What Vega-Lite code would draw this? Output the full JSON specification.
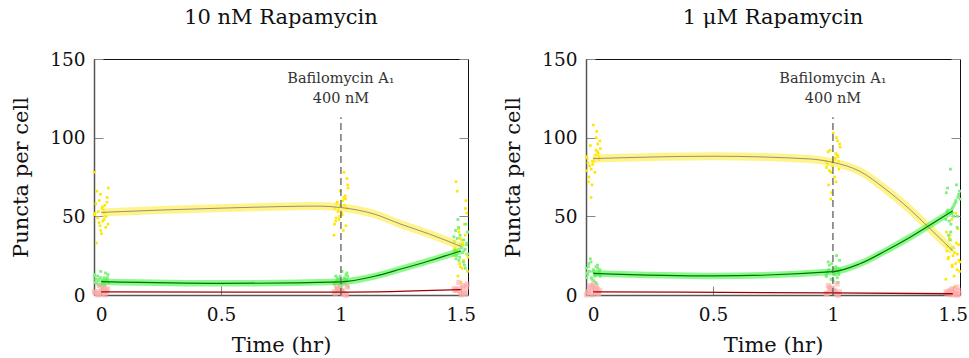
{
"$schema":"https://vega.github.io/schema/vega-lite/v6.json",
"padding":{"left":10,"top":6,"right":0,"bottom":0},
"spacing":24,
"config":{
 "font":"DejaVu Serif",
 "view":{"stroke":"#111","strokeWidth":1},
 "axis":{"grid":false,"domainColor":"#555","domainWidth":1.5,"tickColor":"#888","tickSize":-9,"tickWidth":1,"labelFont":"DejaVu Serif","titleFont":"DejaVu Serif","labelFontSize":18.5,"titleFontSize":21,"titleFontWeight":"normal","labelFontWeight":"normal","labelColor":"#111","titleColor":"#111"},
 "axisX":{"labelPadding":19,"titlePadding":11},
 "axisY":{"labelPadding":18,"titlePadding":18},
 "title":{"font":"DejaVu Serif","fontSize":21,"fontWeight":"normal","color":"#111","offset":22},
 "text":{"font":"DejaVu Serif"}
},
"datasets":{
"pL":[
{"s":"Y","x":-0.025,"v":52},{"s":"Y","x":0.012,"v":48},{"s":"Y","x":-0.008,"v":60},{"s":"Y","x":0.028,"v":45},{"s":"Y","x":0.003,"v":55},{"s":"Y","x":-0.018,"v":66},{"s":"Y","x":0.021,"v":50},{"s":"Y","x":-0.002,"v":41},{"s":"Y","x":0.015,"v":57},{"s":"Y","x":-0.029,"v":78},{"s":"Y","x":0.007,"v":47},{"s":"Y","x":-0.012,"v":53},{"s":"Y","x":0.025,"v":62},{"s":"Y","x":-0.005,"v":44},{"s":"Y","x":0.018,"v":50},{"s":"Y","x":-0.022,"v":58},{"s":"Y","x":0.001,"v":39},{"s":"Y","x":0.010,"v":54},{"s":"Y","x":-0.015,"v":49},{"s":"Y","x":0.030,"v":68},{"s":"Y","x":-0.009,"v":46},{"s":"Y","x":0.005,"v":56},{"s":"Y","x":-0.027,"v":51},{"s":"Y","x":0.019,"v":43},{"s":"Y","x":-0.003,"v":64},{"s":"Y","x":0.013,"v":52},{"s":"Y","x":-0.020,"v":33},{"s":"Y","x":0.024,"v":59},
{"s":"G","x":-0.025,"v":8},{"s":"G","x":0.012,"v":11},{"s":"G","x":-0.008,"v":6},{"s":"G","x":0.028,"v":13},{"s":"G","x":0.003,"v":9},{"s":"G","x":-0.018,"v":7},{"s":"G","x":0.021,"v":10},{"s":"G","x":-0.002,"v":15},{"s":"G","x":0.015,"v":8},{"s":"G","x":-0.029,"v":12},{"s":"G","x":0.007,"v":5},{"s":"G","x":-0.012,"v":9},{"s":"G","x":0.025,"v":11},{"s":"G","x":-0.005,"v":7},{"s":"G","x":0.018,"v":14},{"s":"G","x":-0.022,"v":10},{"s":"G","x":0.001,"v":6},{"s":"G","x":0.010,"v":9},{"s":"G","x":-0.015,"v":12},{"s":"G","x":0.030,"v":8},{"s":"G","x":-0.009,"v":10},{"s":"G","x":0.005,"v":7},{"s":"G","x":-0.027,"v":13},{"s":"G","x":0.019,"v":9},{"s":"G","x":-0.003,"v":11},{"s":"G","x":0.013,"v":6},{"s":"G","x":-0.020,"v":8},{"s":"G","x":0.024,"v":10},
{"s":"R","x":-0.024,"v":2},{"s":"R","x":0.006,"v":1},{"s":"R","x":0.02,"v":3},{"s":"R","x":-0.012,"v":0},{"s":"R","x":0.027,"v":4},{"s":"R","x":-0.003,"v":2},{"s":"R","x":0.013,"v":5},{"s":"R","x":-0.019,"v":1},{"s":"R","x":0.001,"v":3},{"s":"R","x":0.023,"v":2},{"s":"R","x":-0.008,"v":6},{"s":"R","x":0.017,"v":0},{"s":"R","x":-0.028,"v":2},{"s":"R","x":0.009,"v":4},{"s":"R","x":-0.015,"v":1},
{"s":"Y","x":0.975,"v":55},{"s":"Y","x":1.012,"v":62},{"s":"Y","x":0.992,"v":48},{"s":"Y","x":1.028,"v":70},{"s":"Y","x":1.003,"v":52},{"s":"Y","x":0.982,"v":58},{"s":"Y","x":1.021,"v":44},{"s":"Y","x":0.998,"v":66},{"s":"Y","x":1.015,"v":57},{"s":"Y","x":0.971,"v":38},{"s":"Y","x":1.007,"v":60},{"s":"Y","x":0.988,"v":53},{"s":"Y","x":1.025,"v":74},{"s":"Y","x":0.995,"v":50},{"s":"Y","x":1.018,"v":63},{"s":"Y","x":0.978,"v":47},{"s":"Y","x":1.001,"v":56},{"s":"Y","x":1.010,"v":41},{"s":"Y","x":0.985,"v":59},{"s":"Y","x":1.030,"v":68},{"s":"Y","x":0.991,"v":54},{"s":"Y","x":1.005,"v":51},{"s":"Y","x":0.973,"v":45},{"s":"Y","x":1.019,"v":61},{"s":"Y","x":0.997,"v":57},{"s":"Y","x":1.013,"v":78},{"s":"Y","x":0.980,"v":49},{"s":"Y","x":1.024,"v":55},
{"s":"G","x":0.975,"v":8},{"s":"G","x":1.012,"v":10},{"s":"G","x":0.992,"v":5},{"s":"G","x":1.028,"v":12},{"s":"G","x":1.003,"v":7},{"s":"G","x":0.982,"v":9},{"s":"G","x":1.021,"v":13},{"s":"G","x":0.998,"v":6},{"s":"G","x":1.015,"v":11},{"s":"G","x":0.971,"v":8},{"s":"G","x":1.007,"v":3},{"s":"G","x":0.988,"v":10},{"s":"G","x":1.025,"v":14},{"s":"G","x":0.995,"v":7},{"s":"G","x":1.018,"v":9},{"s":"G","x":0.978,"v":12},{"s":"G","x":1.001,"v":6},{"s":"G","x":1.010,"v":8},{"s":"G","x":0.985,"v":11},{"s":"G","x":1.030,"v":5},{"s":"G","x":0.991,"v":10},{"s":"G","x":1.005,"v":15},{"s":"G","x":0.973,"v":7},{"s":"G","x":1.019,"v":9},{"s":"G","x":0.997,"v":12},{"s":"G","x":1.013,"v":8},{"s":"G","x":0.980,"v":4},{"s":"G","x":1.024,"v":10},
{"s":"R","x":0.976,"v":1},{"s":"R","x":1.006,"v":3},{"s":"R","x":1.02,"v":0},{"s":"R","x":0.988,"v":2},{"s":"R","x":1.027,"v":5},{"s":"R","x":0.997,"v":4},{"s":"R","x":1.013,"v":1},{"s":"R","x":0.981,"v":6},{"s":"R","x":1.001,"v":2},{"s":"R","x":1.023,"v":0},{"s":"R","x":0.992,"v":3},{"s":"R","x":1.017,"v":7},{"s":"R","x":0.972,"v":2},{"s":"R","x":1.009,"v":1},{"s":"R","x":0.985,"v":4},
{"s":"Y","x":1.475,"v":30},{"s":"Y","x":1.512,"v":22},{"s":"Y","x":1.492,"v":40},{"s":"Y","x":1.528,"v":15},{"s":"Y","x":1.503,"v":35},{"s":"Y","x":1.482,"v":28},{"s":"Y","x":1.521,"v":60},{"s":"Y","x":1.498,"v":18},{"s":"Y","x":1.515,"v":45},{"s":"Y","x":1.471,"v":25},{"s":"Y","x":1.507,"v":33},{"s":"Y","x":1.488,"v":12},{"s":"Y","x":1.525,"v":52},{"s":"Y","x":1.495,"v":20},{"s":"Y","x":1.518,"v":38},{"s":"Y","x":1.478,"v":27},{"s":"Y","x":1.501,"v":8},{"s":"Y","x":1.510,"v":32},{"s":"Y","x":1.485,"v":66},{"s":"Y","x":1.530,"v":24},{"s":"Y","x":1.491,"v":42},{"s":"Y","x":1.505,"v":17},{"s":"Y","x":1.473,"v":29},{"s":"Y","x":1.519,"v":55},{"s":"Y","x":1.497,"v":36},{"s":"Y","x":1.513,"v":21},{"s":"Y","x":1.480,"v":72},{"s":"Y","x":1.524,"v":26},
{"s":"G","x":1.475,"v":28},{"s":"G","x":1.512,"v":35},{"s":"G","x":1.492,"v":22},{"s":"G","x":1.528,"v":40},{"s":"G","x":1.503,"v":30},{"s":"G","x":1.482,"v":25},{"s":"G","x":1.521,"v":45},{"s":"G","x":1.498,"v":32},{"s":"G","x":1.515,"v":19},{"s":"G","x":1.471,"v":37},{"s":"G","x":1.507,"v":27},{"s":"G","x":1.488,"v":48},{"s":"G","x":1.525,"v":33},{"s":"G","x":1.495,"v":24},{"s":"G","x":1.518,"v":29},{"s":"G","x":1.478,"v":41},{"s":"G","x":1.501,"v":31},{"s":"G","x":1.510,"v":21},{"s":"G","x":1.485,"v":36},{"s":"G","x":1.530,"v":26},{"s":"G","x":1.491,"v":43},{"s":"G","x":1.505,"v":30},{"s":"G","x":1.473,"v":34},{"s":"G","x":1.519,"v":17},{"s":"G","x":1.497,"v":38},{"s":"G","x":1.513,"v":28},{"s":"G","x":1.480,"v":23},{"s":"G","x":1.524,"v":32},
{"s":"R","x":1.476,"v":3},{"s":"R","x":1.506,"v":5},{"s":"R","x":1.52,"v":1},{"s":"R","x":1.488,"v":4},{"s":"R","x":1.527,"v":7},{"s":"R","x":1.497,"v":2},{"s":"R","x":1.513,"v":6},{"s":"R","x":1.481,"v":3},{"s":"R","x":1.501,"v":0},{"s":"R","x":1.523,"v":5},{"s":"R","x":1.492,"v":8},{"s":"R","x":1.517,"v":2},{"s":"R","x":1.472,"v":4},{"s":"R","x":1.509,"v":1},{"s":"R","x":1.485,"v":3}
],
"pR":[
{"s":"Y","x":-0.025,"v":87},{"s":"Y","x":0.012,"v":92},{"s":"Y","x":-0.008,"v":80},{"s":"Y","x":0.028,"v":98},{"s":"Y","x":0.003,"v":85},{"s":"Y","x":-0.018,"v":75},{"s":"Y","x":0.021,"v":90},{"s":"Y","x":-0.002,"v":83},{"s":"Y","x":0.015,"v":104},{"s":"Y","x":-0.029,"v":88},{"s":"Y","x":0.007,"v":78},{"s":"Y","x":-0.012,"v":95},{"s":"Y","x":0.025,"v":86},{"s":"Y","x":-0.005,"v":70},{"s":"Y","x":0.018,"v":91},{"s":"Y","x":-0.022,"v":84},{"s":"Y","x":0.001,"v":108},{"s":"Y","x":0.010,"v":89},{"s":"Y","x":-0.015,"v":82},{"s":"Y","x":0.030,"v":93},{"s":"Y","x":-0.009,"v":62},{"s":"Y","x":0.005,"v":87},{"s":"Y","x":-0.027,"v":79},{"s":"Y","x":0.019,"v":96},{"s":"Y","x":-0.003,"v":85},{"s":"Y","x":0.013,"v":100},{"s":"Y","x":-0.020,"v":72},{"s":"Y","x":0.024,"v":88},
{"s":"G","x":-0.025,"v":14},{"s":"G","x":0.012,"v":18},{"s":"G","x":-0.008,"v":11},{"s":"G","x":0.028,"v":16},{"s":"G","x":0.003,"v":9},{"s":"G","x":-0.018,"v":20},{"s":"G","x":0.021,"v":13},{"s":"G","x":-0.002,"v":15},{"s":"G","x":0.015,"v":7},{"s":"G","x":-0.029,"v":17},{"s":"G","x":0.007,"v":12},{"s":"G","x":-0.012,"v":23},{"s":"G","x":0.025,"v":14},{"s":"G","x":-0.005,"v":10},{"s":"G","x":0.018,"v":19},{"s":"G","x":-0.022,"v":13},{"s":"G","x":0.001,"v":16},{"s":"G","x":0.010,"v":8},{"s":"G","x":-0.015,"v":15},{"s":"G","x":0.030,"v":12},{"s":"G","x":-0.009,"v":21},{"s":"G","x":0.005,"v":14},{"s":"G","x":-0.027,"v":11},{"s":"G","x":0.019,"v":17},{"s":"G","x":-0.003,"v":6},{"s":"G","x":0.013,"v":13},{"s":"G","x":-0.020,"v":18},{"s":"G","x":0.024,"v":15},
{"s":"R","x":-0.024,"v":2},{"s":"R","x":0.006,"v":4},{"s":"R","x":0.02,"v":1},{"s":"R","x":-0.012,"v":6},{"s":"R","x":0.027,"v":3},{"s":"R","x":-0.003,"v":0},{"s":"R","x":0.013,"v":5},{"s":"R","x":-0.019,"v":2},{"s":"R","x":0.001,"v":7},{"s":"R","x":0.023,"v":1},{"s":"R","x":-0.008,"v":3},{"s":"R","x":0.017,"v":4},{"s":"R","x":-0.028,"v":0},{"s":"R","x":0.009,"v":2},{"s":"R","x":-0.015,"v":5},
{"s":"Y","x":0.975,"v":84},{"s":"Y","x":1.012,"v":90},{"s":"Y","x":0.992,"v":78},{"s":"Y","x":1.028,"v":96},{"s":"Y","x":1.003,"v":86},{"s":"Y","x":0.982,"v":70},{"s":"Y","x":1.021,"v":88},{"s":"Y","x":0.998,"v":82},{"s":"Y","x":1.015,"v":100},{"s":"Y","x":0.971,"v":85},{"s":"Y","x":1.007,"v":75},{"s":"Y","x":0.988,"v":92},{"s":"Y","x":1.025,"v":80},{"s":"Y","x":0.995,"v":65},{"s":"Y","x":1.018,"v":89},{"s":"Y","x":0.978,"v":83},{"s":"Y","x":1.001,"v":103},{"s":"Y","x":1.010,"v":87},{"s":"Y","x":0.985,"v":79},{"s":"Y","x":1.030,"v":94},{"s":"Y","x":0.991,"v":61},{"s":"Y","x":1.005,"v":86},{"s":"Y","x":0.973,"v":81},{"s":"Y","x":1.019,"v":98},{"s":"Y","x":0.997,"v":84},{"s":"Y","x":1.013,"v":72},{"s":"Y","x":0.980,"v":91},{"s":"Y","x":1.024,"v":85},
{"s":"G","x":0.975,"v":14},{"s":"G","x":1.012,"v":18},{"s":"G","x":0.992,"v":10},{"s":"G","x":1.028,"v":22},{"s":"G","x":1.003,"v":13},{"s":"G","x":0.982,"v":16},{"s":"G","x":1.021,"v":8},{"s":"G","x":0.998,"v":15},{"s":"G","x":1.015,"v":25},{"s":"G","x":0.971,"v":12},{"s":"G","x":1.007,"v":17},{"s":"G","x":0.988,"v":5},{"s":"G","x":1.025,"v":14},{"s":"G","x":0.995,"v":20},{"s":"G","x":1.018,"v":11},{"s":"G","x":0.978,"v":15},{"s":"G","x":1.001,"v":9},{"s":"G","x":1.010,"v":13},{"s":"G","x":0.985,"v":19},{"s":"G","x":1.030,"v":16},{"s":"G","x":0.991,"v":3},{"s":"G","x":1.005,"v":14},{"s":"G","x":0.973,"v":12},{"s":"G","x":1.019,"v":17},{"s":"G","x":0.997,"v":10},{"s":"G","x":1.013,"v":15},{"s":"G","x":0.980,"v":21},{"s":"G","x":1.024,"v":13},
{"s":"R","x":0.976,"v":1},{"s":"R","x":1.006,"v":3},{"s":"R","x":1.02,"v":0},{"s":"R","x":0.988,"v":5},{"s":"R","x":1.027,"v":2},{"s":"R","x":0.997,"v":4},{"s":"R","x":1.013,"v":1},{"s":"R","x":0.981,"v":6},{"s":"R","x":1.001,"v":2},{"s":"R","x":1.023,"v":0},{"s":"R","x":0.992,"v":3},{"s":"R","x":1.017,"v":7},{"s":"R","x":0.972,"v":1},{"s":"R","x":1.009,"v":2},{"s":"R","x":0.985,"v":4},
{"s":"Y","x":1.475,"v":28},{"s":"Y","x":1.512,"v":20},{"s":"Y","x":1.492,"v":35},{"s":"Y","x":1.528,"v":15},{"s":"Y","x":1.503,"v":30},{"s":"Y","x":1.482,"v":24},{"s":"Y","x":1.521,"v":42},{"s":"Y","x":1.498,"v":18},{"s":"Y","x":1.515,"v":33},{"s":"Y","x":1.471,"v":10},{"s":"Y","x":1.507,"v":27},{"s":"Y","x":1.488,"v":38},{"s":"Y","x":1.525,"v":22},{"s":"Y","x":1.495,"v":48},{"s":"Y","x":1.518,"v":16},{"s":"Y","x":1.478,"v":31},{"s":"Y","x":1.501,"v":25},{"s":"Y","x":1.510,"v":5},{"s":"Y","x":1.485,"v":36},{"s":"Y","x":1.530,"v":21},{"s":"Y","x":1.491,"v":29},{"s":"Y","x":1.505,"v":12},{"s":"Y","x":1.473,"v":40},{"s":"Y","x":1.519,"v":26},{"s":"Y","x":1.497,"v":19},{"s":"Y","x":1.513,"v":52},{"s":"Y","x":1.480,"v":23},{"s":"Y","x":1.524,"v":32},
{"s":"G","x":1.475,"v":53},{"s":"G","x":1.512,"v":60},{"s":"G","x":1.492,"v":45},{"s":"G","x":1.528,"v":66},{"s":"G","x":1.503,"v":50},{"s":"G","x":1.482,"v":38},{"s":"G","x":1.521,"v":62},{"s":"G","x":1.498,"v":55},{"s":"G","x":1.515,"v":70},{"s":"G","x":1.471,"v":48},{"s":"G","x":1.507,"v":58},{"s":"G","x":1.488,"v":35},{"s":"G","x":1.525,"v":64},{"s":"G","x":1.495,"v":52},{"s":"G","x":1.518,"v":43},{"s":"G","x":1.478,"v":68},{"s":"G","x":1.501,"v":56},{"s":"G","x":1.490,"v":80},{"s":"G","x":1.485,"v":47},{"s":"G","x":1.530,"v":61},{"s":"G","x":1.491,"v":40},{"s":"G","x":1.505,"v":57},{"s":"G","x":1.473,"v":65},{"s":"G","x":1.519,"v":50},{"s":"G","x":1.497,"v":30},{"s":"G","x":1.513,"v":59},{"s":"G","x":1.480,"v":54},{"s":"G","x":1.524,"v":63},
{"s":"R","x":1.476,"v":1},{"s":"R","x":1.506,"v":2},{"s":"R","x":1.52,"v":0},{"s":"R","x":1.488,"v":3},{"s":"R","x":1.527,"v":1},{"s":"R","x":1.497,"v":4},{"s":"R","x":1.513,"v":0},{"s":"R","x":1.481,"v":2},{"s":"R","x":1.501,"v":1},{"s":"R","x":1.523,"v":3},{"s":"R","x":1.492,"v":0},{"s":"R","x":1.517,"v":5},{"s":"R","x":1.472,"v":2},{"s":"R","x":1.509,"v":1},{"s":"R","x":1.485,"v":2}
],
"cL":[
{"s":"Y","x":0,"v":52.5},{"s":"Y","x":0.25,"v":54},{"s":"Y","x":0.5,"v":55.2},{"s":"Y","x":0.75,"v":56.2},{"s":"Y","x":0.9,"v":56.5},{"s":"Y","x":1,"v":55.6},{"s":"Y","x":1.14,"v":51.4},{"s":"Y","x":1.25,"v":45},{"s":"Y","x":1.37,"v":38.7},{"s":"Y","x":1.5,"v":30.9},
{"s":"G","x":0,"v":8.5},{"s":"G","x":0.5,"v":7.4},{"s":"G","x":1,"v":8.4},{"s":"G","x":1.14,"v":11.9},{"s":"G","x":1.25,"v":16.5},{"s":"G","x":1.37,"v":21.8},{"s":"G","x":1.5,"v":28},
{"s":"R","x":0,"v":2},{"s":"R","x":1,"v":1.8},{"s":"R","x":1.5,"v":3.4}
],
"cR":[
{"s":"Y","x":0,"v":86.7},{"s":"Y","x":0.5,"v":88.2},{"s":"Y","x":0.9,"v":86.5},{"s":"Y","x":1,"v":84.3},{"s":"Y","x":1.11,"v":78.8},{"s":"Y","x":1.22,"v":67.2},{"s":"Y","x":1.32,"v":54.5},{"s":"Y","x":1.4,"v":42.9},{"s":"Y","x":1.5,"v":28.1},
{"s":"G","x":0,"v":13.8},{"s":"G","x":0.5,"v":12.1},{"s":"G","x":1,"v":14.8},{"s":"G","x":1.11,"v":19.7},{"s":"G","x":1.22,"v":28.1},{"s":"G","x":1.32,"v":36.6},{"s":"G","x":1.4,"v":44},{"s":"G","x":1.5,"v":53.5},
{"s":"R","x":0,"v":2},{"s":"R","x":1,"v":1.3},{"s":"R","x":1.5,"v":0.8}
],
"ann":[{"x":1,"v":0,"v2":113}],
"lab":[{"x":1,"v":135,"t":"Bafilomycin A₁"},{"x":1,"v":122,"t":"400 nM"}]
},
"hconcat":[
{
 "width":374,"height":236,
 "title":{"text":"10 nM Rapamycin"},
 "encoding":{
  "x":{"field":"x","type":"quantitative","scale":{"domain":[-0.03,1.53],"nice":false,"zero":false},"axis":{"values":[0,0.5,1,1.5],"format":"~g","title":"Time (hr)"}},
  "y":{"field":"v","type":"quantitative","scale":{"domain":[0,150],"nice":false},"axis":null}
 },
 "layer":[
  {"data":{"name":"pL"},"transform":[{"filter":"datum.s==='Y'"}],"mark":{"type":"square","size":7,"color":"#ffe600","opacity":1},
   "encoding":{"y":{"field":"v","type":"quantitative","scale":{"domain":[0,150],"nice":false},"axis":{"orient":"left","values":[0,50,100,150],"title":"Puncta per cell"}}}},
  {"data":{"name":"pL"},"transform":[{"filter":"datum.s==='G'"}],"mark":{"type":"square","size":8,"color":"#80f080","opacity":1}},
  {"data":{"name":"pL"},"transform":[{"filter":"datum.s==='R'"}],"mark":{"type":"square","size":26,"color":"#ffa8a8","opacity":0.6}},
  {"data":{"name":"cL"},"transform":[{"filter":"datum.s==='Y'"}],"mark":{"type":"line","interpolate":"monotone","strokeWidth":8,"color":"#ffec40","opacity":0.6}},
  {"data":{"name":"cL"},"transform":[{"filter":"datum.s==='G'"}],"mark":{"type":"line","interpolate":"monotone","strokeWidth":6.5,"color":"#40f540","opacity":0.6}},
  {"data":{"name":"cL"},"transform":[{"filter":"datum.s==='Y'"}],"mark":{"type":"line","interpolate":"monotone","strokeWidth":0.9,"color":"#8a8670"}},
  {"data":{"name":"cL"},"transform":[{"filter":"datum.s==='G'"}],"mark":{"type":"line","interpolate":"monotone","strokeWidth":1.2,"color":"#007000"}},
  {"data":{"name":"cL"},"transform":[{"filter":"datum.s==='R'"}],"mark":{"type":"line","interpolate":"monotone","strokeWidth":1.3,"color":"#a00000"}},
  {"data":{"name":"ann"},"mark":{"type":"rule","color":"#555","strokeDash":[7,4],"strokeWidth":1.2},
   "encoding":{"y":{"field":"v","type":"quantitative","scale":{"domain":[0,150],"nice":false},"axis":{"orient":"right","values":[0,50,100,150],"labels":false,"title":null,"domain":false}},"y2":{"field":"v2"}}},
  {"data":{"name":"lab"},"mark":{"type":"text","font":"DejaVu Serif","fontSize":14.5,"color":"#333","baseline":"alphabetic"},"encoding":{"text":{"field":"t","type":"nominal"}}}
 ],
 "resolve":{"axis":{"y":"independent"}}
},
{
 "width":374,"height":236,
 "title":{"text":"1 μM Rapamycin"},
 "encoding":{
  "x":{"field":"x","type":"quantitative","scale":{"domain":[-0.03,1.53],"nice":false,"zero":false},"axis":{"values":[0,0.5,1,1.5],"format":"~g","title":"Time (hr)"}},
  "y":{"field":"v","type":"quantitative","scale":{"domain":[0,150],"nice":false},"axis":null}
 },
 "layer":[
  {"data":{"name":"pR"},"transform":[{"filter":"datum.s==='Y'"}],"mark":{"type":"square","size":7,"color":"#ffe600","opacity":1},
   "encoding":{"y":{"field":"v","type":"quantitative","scale":{"domain":[0,150],"nice":false},"axis":{"orient":"left","values":[0,50,100,150],"title":"Puncta per cell"}}}},
  {"data":{"name":"pR"},"transform":[{"filter":"datum.s==='G'"}],"mark":{"type":"square","size":8,"color":"#80f080","opacity":1}},
  {"data":{"name":"pR"},"transform":[{"filter":"datum.s==='R'"}],"mark":{"type":"square","size":26,"color":"#ffa8a8","opacity":0.6}},
  {"data":{"name":"cR"},"transform":[{"filter":"datum.s==='Y'"}],"mark":{"type":"line","interpolate":"monotone","strokeWidth":8,"color":"#ffec40","opacity":0.6}},
  {"data":{"name":"cR"},"transform":[{"filter":"datum.s==='G'"}],"mark":{"type":"line","interpolate":"monotone","strokeWidth":6.5,"color":"#40f540","opacity":0.6}},
  {"data":{"name":"cR"},"transform":[{"filter":"datum.s==='Y'"}],"mark":{"type":"line","interpolate":"monotone","strokeWidth":0.9,"color":"#8a8670"}},
  {"data":{"name":"cR"},"transform":[{"filter":"datum.s==='G'"}],"mark":{"type":"line","interpolate":"monotone","strokeWidth":1.2,"color":"#007000"}},
  {"data":{"name":"cR"},"transform":[{"filter":"datum.s==='R'"}],"mark":{"type":"line","interpolate":"monotone","strokeWidth":1.3,"color":"#a00000"}},
  {"data":{"name":"ann"},"mark":{"type":"rule","color":"#555","strokeDash":[7,4],"strokeWidth":1.2},
   "encoding":{"y":{"field":"v","type":"quantitative","scale":{"domain":[0,150],"nice":false},"axis":{"orient":"right","values":[0,50,100,150],"labels":false,"title":null,"domain":false}},"y2":{"field":"v2"}}},
  {"data":{"name":"lab"},"mark":{"type":"text","font":"DejaVu Serif","fontSize":14.5,"color":"#333","baseline":"alphabetic"},"encoding":{"text":{"field":"t","type":"nominal"}}}
 ],
 "resolve":{"axis":{"y":"independent"}}
}
]
}
